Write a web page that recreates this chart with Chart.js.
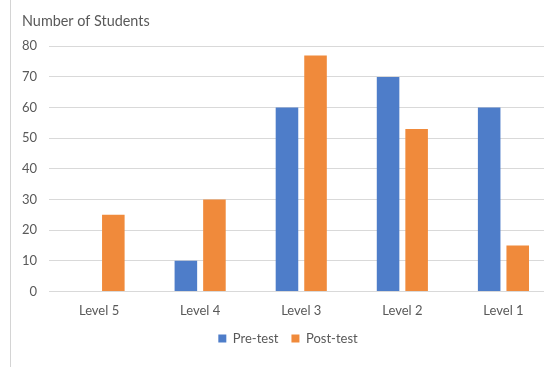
<!DOCTYPE html>
<html>
<head>
<meta charset="utf-8">
<script src="https://cdn.jsdelivr.net/npm/chart.js@4"></script>
<style>
  html, body { margin: 0; padding: 0; background: #fff; overflow: hidden; width: 544px; height: 367px; }
  #edge { position: absolute; left: 10px; top: 0; width: 1px; height: 367px; background: #d4d4d4; }
  #wrap { position: absolute; left: 12px; top: 0; width: 542px; height: 367px; }
</style>
</head>
<body>
<div id="edge"></div>
<div id="wrap"><canvas id="chart"></canvas></div>
<script>
const categories = ['Level 5', 'Level 4', 'Level 3', 'Level 2', 'Level 1'];
const preTest = [0, 10, 60, 70, 60];
const postTest = [25, 30, 77, 53, 15];
const yMin = 0;
const yMax = 80;
const yStep = 10;

const textColor = '#595959';
const fontFamily = 'Lato, "Open Sans", sans-serif';

new Chart(document.getElementById('chart').getContext('2d'), {
  type: 'bar',
  data: {
    labels: categories,
    datasets: [
      {
        label: 'Pre-test',
        data: preTest,
        backgroundColor: '#4e7dc9',
        categoryPercentage: 0.565,
        barPercentage: 0.79
      },
      {
        label: 'Post-test',
        data: postTest,
        backgroundColor: '#f08a3b',
        categoryPercentage: 0.565,
        barPercentage: 0.79
      }
    ]
  },
  options: {
    responsive: true,
    maintainAspectRatio: false,
    animation: false,
    layout: {
      padding: { left: 10, right: 0, top: 0, bottom: 12 }
    },
    plugins: {
      title: {
        display: true,
        text: 'Number of Students',
        align: 'start',
        color: textColor,
        font: { family: fontFamily, size: 14.4, weight: 'normal', lineHeight: 1.2 },
        padding: { top: 13, bottom: 16 }
      },
      legend: {
        position: 'bottom',
        labels: {
          color: textColor,
          font: { family: fontFamily, size: 13 },
          boxWidth: 8,
          boxHeight: 8,
          padding: 13
        }
      },
      tooltip: { enabled: false }
    },
    scales: {
      x: {
        afterFit(scale) { scale.height = 27.6; },
        grid: { display: false, drawTicks: false },
        border: { display: false },
        ticks: {
          color: textColor,
          font: { family: fontFamily, size: 13 },
          padding: 12
        }
      },
      y: {
        min: yMin,
        max: yMax,
        afterFit(scale) { scale.width = 26.5; },
        grid: { color: '#d9d9d9', lineWidth: 1, drawTicks: false },
        border: { display: false },
        ticks: {
          stepSize: yStep,
          color: textColor,
          font: { family: fontFamily, size: 13 },
          padding: 11.5
        }
      }
    }
  }
});
</script>
</body>
</html>
